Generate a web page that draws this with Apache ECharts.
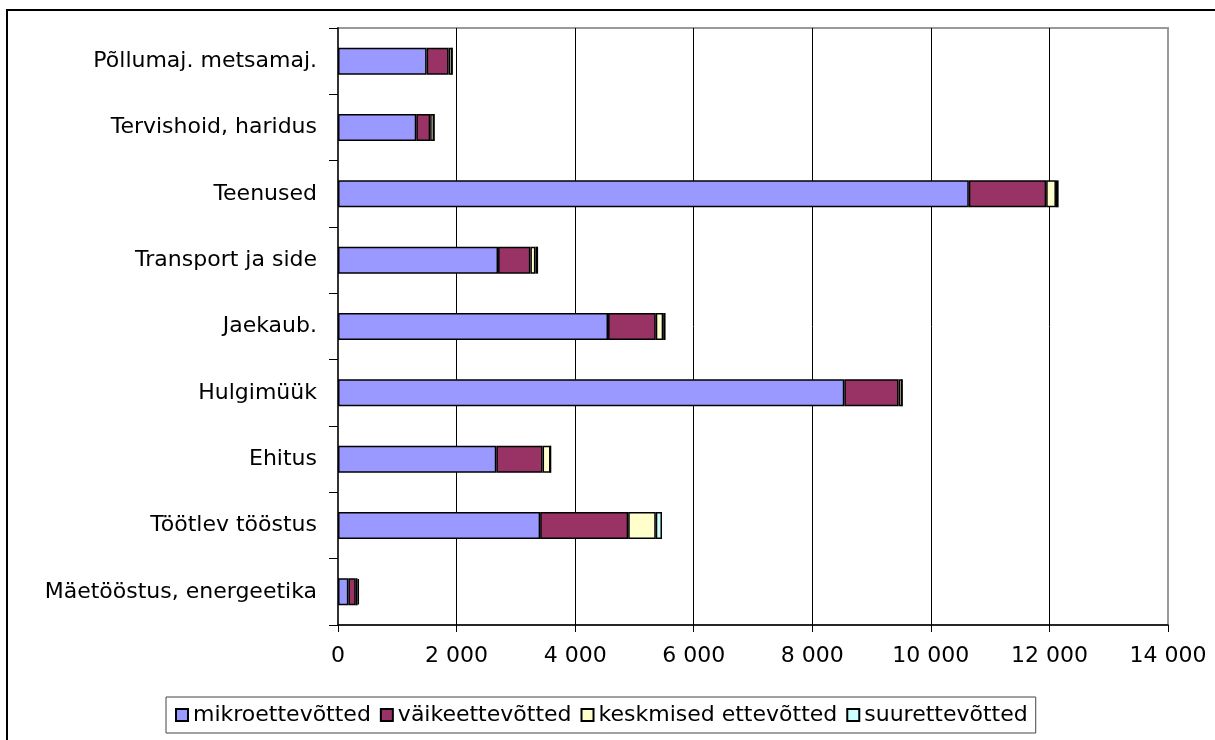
<!DOCTYPE html>
<html>
<head>
<meta charset="utf-8">
<script src="https://cdn.jsdelivr.net/npm/echarts@6/dist/echarts.min.js"></script>
<style>
  html, body { margin: 0; padding: 0; background: #fff; }
  #chart { width: 1215px; height: 740px; }
</style>
</head>
<body>
<div id="chart"></div>
<script>
// Sectors, listed bottom to top as the category axis draws them
const categories = [
  'Mäetööstus, energeetika',
  'Töötlev tööstus',
  'Ehitus',
  'Hulgimüük',
  'Jaekaub.',
  'Transport ja side',
  'Teenused',
  'Tervishoid, haridus',
  'Põllumaj. metsamaj.'
];

// Enterprise counts by size class
const mikroettevotted   = [175, 3410, 2670, 8540, 4555, 2700, 10640, 1320, 1495];
const vaikeettevotted   = [125, 1485, 780, 915, 805, 545, 1305, 235, 370];
const keskmised         = [30, 465, 135, 60, 125, 85, 165, 65, 60];
const suurettevotted    = [25, 105, 0, 0, 40, 45, 45, 0, 0];

const seriesNames = ['mikroettevõtted', 'väikeettevõtted', 'keskmised ettevõtted', 'suurettevõtted'];
const seriesColors = ['#9999FF', '#993366', '#FFFFCC', '#CCFFFF'];
const seriesData = [mikroettevotted, vaikeettevotted, keskmised, suurettevotted];

// x-axis range and tick step
const xMin = 0, xMax = 14000, xStep = 2000;

const FONT = 'DejaVu Sans';

function groupThousands(v) {
  return String(v).replace(/\B(?=(\d{3})+(?!\d))/g, ' ');
}

const chart = echarts.init(document.getElementById('chart'), null, { renderer: 'canvas' });

// vertical grid lines black, the last one (plot border) grey
const splitColors = [];
for (let v = xMin; v <= xMax; v += xStep) splitColors.push(v === xMax ? '#999999' : '#000000');

chart.setOption({
  animation: false,
  backgroundColor: '#ffffff',
  textStyle: { fontFamily: FONT, color: '#000' },
  grid: {
    left: 338, right: 47, top: 28, bottom: 115,
    show: true, borderColor: '#999999', borderWidth: 2, backgroundColor: 'transparent'
  },
  xAxis: {
    type: 'value',
    min: xMin, max: xMax, interval: xStep,
    axisLine: { show: true, lineStyle: { color: '#000', width: 1.5 } },
    axisTick: { show: true, length: 7, lineStyle: { color: '#000', width: 1 } },
    axisLabel: { fontFamily: FONT, fontSize: 22, color: '#000', margin: 20, formatter: groupThousands },
    splitLine: { show: true, lineStyle: { color: splitColors, width: 1 } }
  },
  yAxis: {
    type: 'category',
    data: categories,
    axisLine: { show: true, lineStyle: { color: '#333', width: 2 } },
    axisTick: { show: true, length: 9, lineStyle: { color: '#000', width: 1 } },
    axisLabel: { fontFamily: FONT, fontSize: 22, color: '#000', margin: 21 },
    splitLine: { show: false }
  },
  legend: {
    data: seriesNames,
    left: 166, top: 697,
    orient: 'horizontal',
    itemWidth: 12, itemHeight: 12, itemGap: 9,
    padding: [7, 8, 7, 9],
    borderColor: '#444', borderWidth: 1,
    icon: 'rect',
    textStyle: { fontFamily: FONT, fontSize: 22, color: '#000', padding: [0, 0, 0, 0] }
  },
  series: seriesNames.map((name, i) => ({
    name,
    type: 'bar',
    stack: 'total',
    barWidth: 27,
    data: seriesData[i],
    itemStyle: { color: seriesColors[i], borderColor: '#000', borderWidth: 1.5 },
    emphasis: { disabled: true }
  })),
  graphic: [{
    type: 'polyline',
    silent: true,
    shape: { points: [[7, 740], [7, 10], [1215, 10]] },
    style: { stroke: '#000', lineWidth: 2, fill: null }
  }]
});
</script>
</body>
</html>
